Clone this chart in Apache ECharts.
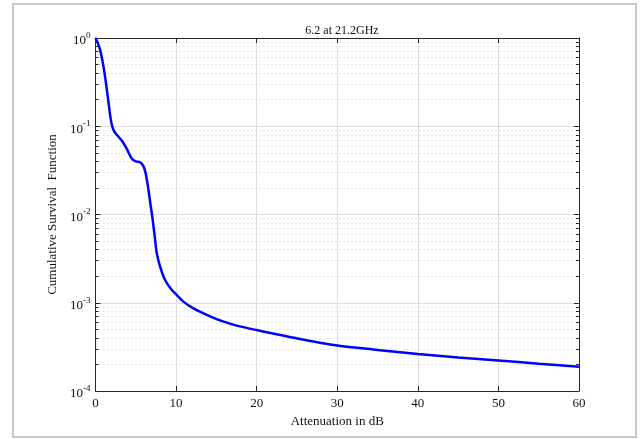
<!DOCTYPE html>
<html>
<head>
<meta charset="utf-8">
<script src="https://cdn.jsdelivr.net/npm/echarts@6/dist/echarts.min.js"></script>
<style>
html,body{margin:0;padding:0;background:#fff;}
#c{width:640px;height:439px;}
</style>
</head>
<body>
<div id="c"></div>
<script>
// Data
var attenuation = [0, 0.3, 0.6, 1.0, 1.3, 1.6, 1.85, 2.05, 2.3, 2.8, 3.3, 3.9, 4.5, 5.0, 5.55, 5.9, 6.2, 6.5, 6.8, 7.1, 7.38, 7.59, 8.0, 8.62, 9.45, 10.07, 10.9, 12.1, 13.8, 15.9, 17.9, 20, 25, 30, 35, 40, 45, 50, 55, 60];
var survival = [1.0, 0.87, 0.72, 0.47, 0.31, 0.19, 0.127, 0.102, 0.088, 0.077, 0.068, 0.055, 0.043, 0.040, 0.039, 0.036, 0.030, 0.021, 0.0135, 0.0087, 0.0053, 0.0037, 0.0026, 0.00182, 0.0014, 0.00123, 0.00103, 0.00087, 0.00073, 0.00061, 0.00054, 0.00049, 0.000395, 0.000328, 0.000292, 0.000262, 0.00024, 0.000222, 0.000204, 0.000188];
var xTicks = [0, 10, 20, 30, 40, 50, 60];
var yTicks = [1e-4, 1e-3, 1e-2, 1e-1, 1];
var titleText = '6.2 at 21.2GHz';
var xName = 'Attenuation in dB';
var yName = 'Cumulative Survival  Function';

// minor log positions (2..9 within each decade), in log10 units
var minorLog = [];
for (var d = -4; d < 0; d++) {
  for (var k = 2; k <= 9; k++) minorLog.push(d + Math.log10(k));
}

var serif = '"Liberation Serif", "DejaVu Serif", serif';
var points = attenuation.map(function (x, i) { return [x, survival[i]]; });

var chart = echarts.init(document.getElementById('c'), null, {renderer: 'canvas'});
chart.setOption({
  backgroundColor: '#fff',
  animation: false,
  graphic: [{
    type: 'rect', silent: true, z: -10,
    shape: {x: 13, y: 4, width: 623, height: 433},
    style: {fill: '#fff', stroke: '#c8c8c8', lineWidth: 2}
  }],
  title: {
    text: titleText, left: 337, top: 20, textAlign: 'center',
    textStyle: {fontFamily: serif, fontSize: 12, fontWeight: 'normal', color: '#111'}
  },
  grid: {left: 95.5, right: 61, top: 38, bottom: 48, containLabel: false},
  xAxis: [{
    type: 'value', min: 0, max: 60, interval: 10, position: 'bottom',
    name: xName, nameLocation: 'middle', nameGap: 21,
    nameTextStyle: {fontFamily: serif, fontSize: 13, color: '#111'},
    axisLine: {show: true, onZero: false, lineStyle: {color: '#262626', width: 1}},
    axisTick: {show: true, inside: true, length: 5, lineStyle: {color: '#262626'}},
    axisLabel: {margin: 6, fontFamily: serif, fontSize: 13, color: '#111',
      customValues: xTicks},
    splitLine: {show: true, lineStyle: {color: '#dedede', width: 1, type: 'solid'}}
  }, {
    type: 'value', min: 0, max: 60, interval: 10, position: 'top',
    axisLine: {show: true, onZero: false, lineStyle: {color: '#262626', width: 1}},
    axisTick: {show: true, inside: true, length: 5, lineStyle: {color: '#262626'}},
    axisLabel: {show: false},
    splitLine: {show: false}
  }],
  yAxis: [{
    type: 'log', logBase: 10, min: 1e-4, max: 1, position: 'left',
    name: yName, nameLocation: 'middle', nameGap: 31, nameRotate: 90,
    nameTextStyle: {fontFamily: serif, fontSize: 13, color: '#111'},
    axisLine: {show: true, onZero: false, lineStyle: {color: '#262626', width: 1}},
    axisTick: {show: true, inside: true, length: 5, lineStyle: {color: '#262626'}},
    axisLabel: {
      margin: 5,
      formatter: function (v) {
        var e = Math.round(Math.log10(v));
        return '{b|10}{s|' + e + '}';
      },
      rich: {
        b: {fontFamily: serif, fontSize: 13, color: '#111', lineHeight: 14, padding: [6, 0, 0, 0]},
        s: {fontFamily: serif, fontSize: 9, color: '#111', lineHeight: 10, verticalAlign: 'top'}
      }
    },
    splitLine: {show: true, lineStyle: {color: '#dedede', width: 1, type: 'solid'}}
  }, {
    type: 'log', logBase: 10, min: 1e-4, max: 1, position: 'right',
    axisLine: {show: true, onZero: false, lineStyle: {color: '#262626', width: 1}},
    axisTick: {show: true, inside: true, length: 5, lineStyle: {color: '#262626'}},
    axisLabel: {show: false},
    splitLine: {show: false}
  }, {
    type: 'value', min: -4, max: 0, position: 'left',
    axisLine: {show: false, onZero: false},
    axisTick: {show: true, inside: true, length: 3, customValues: minorLog, lineStyle: {color: '#262626'}},
    axisLabel: {show: false},
    splitLine: {show: true, lineStyle: {color: '#cfcfcf', width: 1, type: [1, 3]}}
  }, {
    type: 'value', min: -4, max: 0, position: 'right',
    axisLine: {show: false, onZero: false},
    axisTick: {show: true, inside: true, length: 3, customValues: minorLog, lineStyle: {color: '#262626'}},
    axisLabel: {show: false},
    splitLine: {show: false}
  }],
  series: [{
    type: 'line', xAxisIndex: 0, yAxisIndex: 0,
    data: points, showSymbol: false, smooth: 0.3, z: 10,
    lineStyle: {color: '#0000ff', width: 2.5}
  }]
});
</script>
</body>
</html>
